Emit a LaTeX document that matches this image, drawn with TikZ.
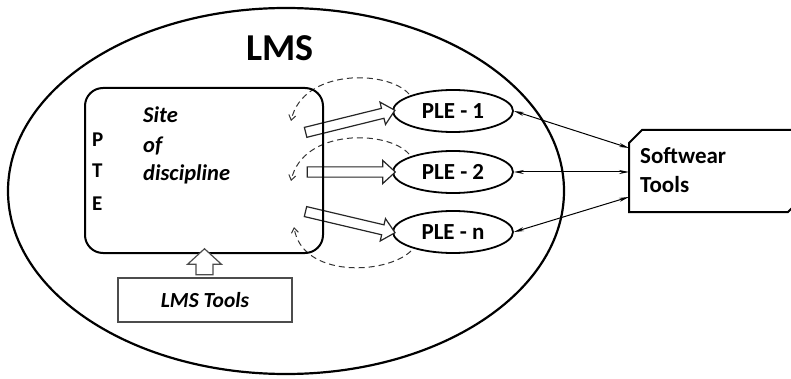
\documentclass[tikz,border=0pt]{standalone}
\usepackage{fontspec}
\setmainfont{Carlito}
\usetikzlibrary{shapes.geometric,shapes.arrows,arrows.meta}
\begin{document}
\begin{tikzpicture}[x=1pt,y=-1pt,
  lbl/.style={font=\bfseries\fontsize{21}{24}\selectfont, inner sep=0pt, anchor=base west},
  ilbl/.style={font=\bfseries\itshape\fontsize{22.5}{24}\selectfont, inner sep=0pt, anchor=base west},
  ple/.style={draw, ellipse, line width=1.8pt, minimum width=120pt, minimum height=42pt, inner sep=0pt, font=\bfseries\fontsize{23}{24}\selectfont},
  hollow/.style={draw=black!85, single arrow, line width=1.2pt, fill=white, minimum width=23pt, single arrow head extend=6pt, single arrow tip angle=85, inner xsep=0pt, inner ysep=4.2pt},
  dasharc/.style={line width=1pt, dash pattern=on 6pt off 4pt, draw=black!80, -{Straight Barb[length=5pt,width=7pt]}},
  dbl/.style={line width=1pt, {Stealth[length=10pt,width=4pt]}-{Stealth[length=10pt,width=4pt]}}
]
\useasboundingbox (0,0) rectangle (791,379);
% outer LMS ellipse
\node[draw, ellipse, line width=2.2pt, minimum width=556pt, minimum height=366pt] (lms) at (286,191) {};
\node[font=\bfseries\fontsize{38}{40}\selectfont, inner sep=0pt] (lmslbl) at (280,48) {LMS};
% PLE ellipses
\node[ple] (ple1) at (453,111) {PLE - 1};
\node[ple] (ple2) at (453,172) {PLE - 2};
\node[ple] (plen) at (453,232) {PLE - n};
% dashed return arcs
\coordinate (a1s) at (409,94);
\coordinate (a1e) at (291,121);
\coordinate (a2s) at (409,154);
\coordinate (a2e) at (291,181);
\coordinate (a3s) at (411,251);
\coordinate (a3e) at (294,227);
\draw[dasharc] (a1s) .. controls (388,70) and (303,68) .. (a1e);
\draw[dasharc] (a2s) .. controls (388,130) and (303,128) .. (a2e);
\draw[dasharc] (a3s) .. controls (386,275) and (302,278) .. (a3e);
% hollow arrows to PLEs
\coordinate (h1s) at (303,133);
\coordinate (h2s) at (305,172);
\coordinate (h3s) at (303,211);
\path (h1s) -- (ple1.west) node[hollow, midway, sloped, minimum height=92pt] (ha1) {};
\path (h2s) -- (ple2.west) node[hollow, midway, sloped, minimum height=88pt] (ha2) {};
\path (h3s) -- (plen.west) node[hollow, midway, sloped, minimum height=92pt] (ha3) {};
% PTE rounded rectangle
\node[draw, line width=2pt, rounded corners=18pt, minimum width=238pt, minimum height=165pt, inner sep=0pt] (pte) at (204,170.5) {};
\node[lbl] (p) at (92,147) {P};
\node[lbl] (t) at (92,178) {T};
\node[lbl] (e) at (92,211) {E};
\node[ilbl] (site) at (143,123) {Site};
\node[ilbl] (of) at (143,153) {of};
\node[ilbl] (disc) at (143,181) {discipline};
% LMS Tools
\node[draw=black!70, line width=1.3pt, minimum width=174pt, minimum height=44pt, inner sep=0pt, font=\bfseries\itshape\fontsize{21.5}{24}\selectfont] (lmst) at (205,300) {LMS Tools};
\path (lmst.north) -- (pte.south) node[hollow, draw=black!70, midway, rotate=90, minimum height=26pt, minimum width=34pt, inner ysep=7.5pt, single arrow head extend=8pt, single arrow tip angle=95] (up) {};
% Softwear Tools box
\coordinate (sw1) at (629,143);
\coordinate (sw2) at (642,130);
\coordinate (sw3) at (800,130);
\coordinate (sw4) at (800,200);
\coordinate (sw5) at (788,212);
\coordinate (sw6) at (629,212);
\draw[line width=2pt, line join=miter] (sw1) -- (sw2) -- (sw3) -- (sw4) -- (sw5) -- (sw6) -- cycle;
\node[font=\bfseries\fontsize{23}{29}\selectfont, align=left, inner sep=0pt, anchor=west] (sw) at (640,170) {Softwear\\Tools};
% double arrows
\coordinate (c1) at (629,148);
\coordinate (c2) at (629,172);
\coordinate (c3) at (629,197);
\draw[dbl] (ple1.east) -- (c1);
\draw[dbl] (ple2.east) -- (c2);
\draw[dbl] (plen.east) -- (c3);
\end{tikzpicture}
\end{document}
